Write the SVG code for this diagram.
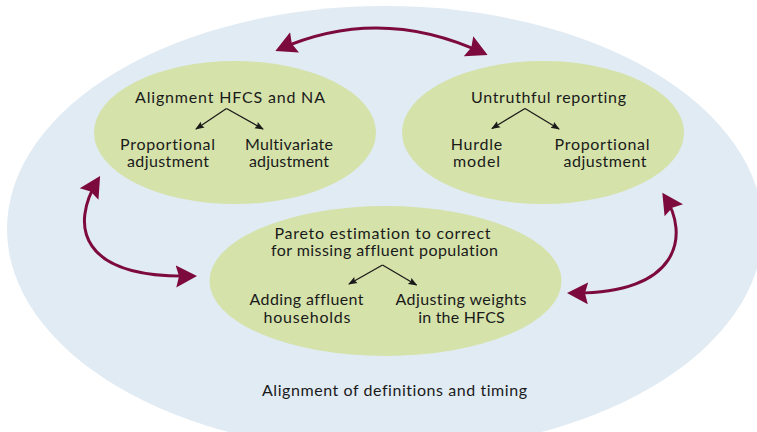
<svg xmlns="http://www.w3.org/2000/svg" width="757" height="432" viewBox="0 0 757 432">
  <style>
    .bg { fill: #e1ebf4; }
    .node { fill: #d5e2aa; }
    text { font-family: Lato, "Open Sans", "Liberation Sans", sans-serif; font-size: 16px; fill: #1a1a1a; text-anchor: middle; font-variant-ligatures: none; }
    .conn { fill: none; stroke: #7d0a3c; stroke-width: 3; marker-start: url(#bigHead); marker-end: url(#bigHead); }
    .branch { fill: none; stroke: #1a1a1a; stroke-width: 1.3; marker-end: url(#smallHead); }
  </style>
  <defs>
    <marker id="bigHead" markerUnits="userSpaceOnUse" viewBox="0 -12 22 24" refX="17" refY="0" markerWidth="22" markerHeight="24" orient="auto-start-reverse">
      <path d="M0,-11 L21,0 L0,11 L3,0 z" fill="#7d0a3c"/>
    </marker>
    <marker id="smallHead" markerUnits="userSpaceOnUse" viewBox="0 -4 9 8" refX="8" refY="0" markerWidth="9" markerHeight="8" orient="auto">
      <path d="M0,-3.5 L9,0 L0,3.5 L1.5,0 z" fill="#1a1a1a"/>
    </marker>
  </defs>

  <ellipse class="bg" cx="385" cy="229" rx="378" ry="223"/>

  <g id="node-alignment">
    <ellipse class="node" cx="235" cy="132.5" rx="141" ry="71.5"/>
    <text x="230" y="102.5" textLength="190">Alignment HFCS and NA</text>
    <path class="branch" d="M226.5,108.5 L196,129"/>
    <path class="branch" d="M226.5,108.5 L263,129"/>
    <text x="167.5" y="150" textLength="95">Proportional</text>
    <text x="168" y="167" textLength="82">adjustment</text>
    <text x="289" y="150" textLength="88">Multivariate</text>
    <text x="289" y="167" textLength="80">adjustment</text>
  </g>

  <g id="node-untruthful">
    <ellipse class="node" cx="543" cy="132.5" rx="141" ry="71.5"/>
    <text x="548.5" y="102.5" textLength="155">Untruthful reporting</text>
    <path class="branch" d="M525,108.5 L492,128.5"/>
    <path class="branch" d="M525,108.5 L559,129"/>
    <text x="476.5" y="149.5" textLength="51.5">Hurdle</text>
    <text x="476.5" y="166.5" textLength="47">model</text>
    <text x="602" y="149.5" textLength="95">Proportional</text>
    <text x="605" y="166.5" textLength="83">adjustment</text>
  </g>

  <g id="node-pareto">
    <ellipse class="node" cx="385.5" cy="281" rx="176" ry="75"/>
    <text x="382.5" y="238.5" textLength="216">Pareto estimation to correct</text>
    <text x="384.5" y="256" textLength="227">for missing affluent population</text>
    <path class="branch" d="M382.5,265 L349,284"/>
    <path class="branch" d="M382.5,265 L416.5,285"/>
    <text x="306.5" y="305" textLength="114">Adding affluent</text>
    <text x="307" y="322.5" textLength="87">households</text>
    <text x="461" y="305" textLength="131">Adjusting weights</text>
    <text x="461.5" y="322.5" textLength="86.5">in the HFCS</text>
  </g>

  <g id="connectors">
    <path class="conn" d="M279,49.3 Q380,4.6 484,53.4"/>
    <path class="conn" d="M98,179.5 C70,225 78,279 193,276"/>
    <path class="conn" d="M664.5,196 C690,235 680,295 571,293"/>
  </g>

  <text x="394.5" y="396" textLength="265">Alignment of definitions and timing</text>
</svg>
